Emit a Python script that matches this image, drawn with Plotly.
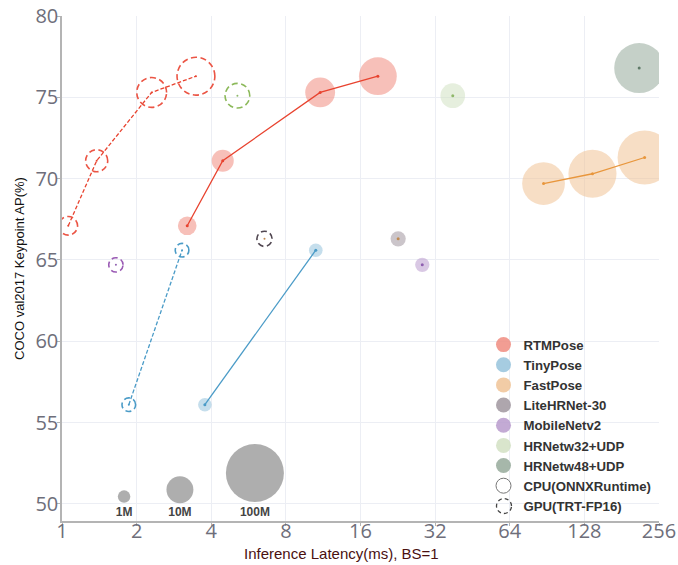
import numpy as np
import plotly.graph_objects as go

# ---- data: latency (ms), COCO AP, params (M) ----
rtm_ap = [67.1, 71.1, 75.3, 76.3]
rtm_params = [3.3, 5.5, 13.6, 27.7]
rtm_cpu_ms = [3.2, 4.45, 11.0, 18.8]
rtm_gpu_ms = [1.06, 1.38, 2.30, 3.47]

tiny_ap = [56.1, 65.6]
tiny_params = [1.3, 1.3]
tiny_cpu_ms = [3.77, 10.56]
tiny_gpu_ms = [1.86, 3.05]

fast_ap = [69.7, 70.3, 71.3]
fast_params = [40.0, 57.0, 81.0]
fast_cpu_ms = [87.6, 138.0, 224.0]

lite_ap = [66.3]
lite_params = [1.8]
lite_cpu_ms = [22.7]
lite_gpu_ms = [6.56]

mob_ap = [64.7]
mob_params = [1.5]
mob_cpu_ms = [28.4]
mob_gpu_ms = [1.65]

w32_ap = [75.1]
w32_params = [7.7]
w32_cpu_ms = [37.7]
w32_gpu_ms = [5.1]

w48_ap = [76.8]
w48_params = [64.0]
w48_cpu_ms = [213.0]

ref_labels = ["1M", "10M", "100M"]
ref_params = [1, 10, 100]
ref_ms = [1.78, 2.99, 6.0]
ref_ap = [50.45, 50.87, 51.9]
ref_label_ap = 49.47

x_ticks = [1, 2, 4, 8, 16, 32, 64, 128, 256]
y_ticks = [50, 55, 60, 65, 70, 75, 80]


def diam(p):
    # bubble diameter grows with the cube root of the parameter count
    return [12.5 * v ** (1 / 3) for v in p]


def ring_path(r):
    # closed circle (four cubic arcs) in pixel offsets around an anchor
    k = 0.5523 * r
    return (f"M {r},0 C {r},{k} {k},{r} 0,{r} C {-k},{r} {-r},{k} {-r},0 "
            f"C {-r},{-k} {-k},{-r} 0,{-r} C {k},{-r} {r},{-k} {r},0 Z")


fig = go.Figure()

series = [
    # name, ap, params, cpu, gpu, fill, line, ring colour
    ("RTMPose", rtm_ap, rtm_params, rtm_cpu_ms, rtm_gpu_ms, "#F08C80", "#E8432F", "#EB5545"),
    ("TinyPose", tiny_ap, tiny_params, tiny_cpu_ms, tiny_gpu_ms, "#96C3DC", "#4A9BC7", "#4A9BC7"),
    ("FastPose", fast_ap, fast_params, fast_cpu_ms, None, "#F0C396", "#E8963C", None),
    ("LiteHRNet-30", lite_ap, lite_params, lite_cpu_ms, lite_gpu_ms, "#A0969F", "#C08A50", "#504650"),
    ("MobileNetv2", mob_ap, mob_params, mob_cpu_ms, mob_gpu_ms, "#B99BCD", "#8F5FB0", "#9A5AB4"),
    ("HRNetw32+UDP", w32_ap, w32_params, w32_cpu_ms, w32_gpu_ms, "#D2E1C3", "#8FB86A", "#8CB95A"),
    ("HRNetw48+UDP", w48_ap, w48_params, w48_cpu_ms, None, "#96AA9B", "#5F7A68", None),
]

shapes = []
for name, ap, params, cpu, gpu, fill, line, rcol in series:
    d = diam(params)
    # CPU bubbles
    fig.add_trace(go.Scatter(
        x=cpu, y=ap, mode="markers", showlegend=False, hoverinfo="skip",
        marker=dict(size=d, sizemode="diameter", color=fill, opacity=0.55,
                    line=dict(width=0)),
    ))
    fig.add_trace(go.Scatter(
        x=cpu, y=ap, mode="lines+markers", showlegend=False,
        line=dict(color=line, width=1.3),
        marker=dict(size=3, color=line),
    ))
    if gpu is not None:
        fig.add_trace(go.Scatter(
            x=gpu, y=ap, mode="lines+markers", showlegend=False,
            line=dict(color=line, width=1.3, dash="4px,2px"),
            marker=dict(size=2, color=line),
        ))
        # GPU results: dashed rings of the same size as the CPU bubbles
        for gx, gy, gd in zip(gpu, ap, d):
            shapes.append(dict(
                type="path", xref="x", yref="y",
                xsizemode="pixel", ysizemode="pixel",
                xanchor=gx, yanchor=gy, path=ring_path(gd / 2),
                line=dict(color=rcol, width=1.6, dash="6px,3.5px"),
                fillcolor="rgba(0,0,0,0)", layer="above",
            ))

# parameter-count reference bubbles
fig.add_trace(go.Scatter(
    x=ref_ms, y=ref_ap, mode="markers", showlegend=False, hoverinfo="skip",
    marker=dict(size=diam(ref_params), sizemode="diameter", color="#9a9a9a",
                opacity=0.8, line=dict(width=0)),
))
fig.add_trace(go.Scatter(
    x=ref_ms, y=[ref_label_ap] * 3, mode="text", text=ref_labels,
    showlegend=False, hoverinfo="skip",
    textfont=dict(family="Liberation Sans", size=12, color="#444444", weight="bold"),
))

# legend entries
for name, ap, params, cpu, gpu, fill, line, rcol in series:
    fig.add_trace(go.Scatter(
        x=[None], y=[None], mode="markers", name=name,
        marker=dict(size=15, color=fill, opacity=0.85, line=dict(width=0)),
    ))
fig.add_trace(go.Scatter(
    x=[None], y=[None], mode="markers", name="CPU(ONNXRuntime)",
    marker=dict(size=15, color="white", line=dict(width=1, color="#777777")),
))
fig.add_trace(go.Scatter(
    x=[None], y=[None], mode="markers", name="GPU(TRT-FP16)",
    marker=dict(size=15, color="rgba(0,0,0,0)", line=dict(width=0)),
))

PL, PR, PT, PB = 62, 19, 16, 44
PW, PH = 678 - PL - PR, 565 - PT - PB

# dashed symbol for the GPU legend entry
shapes.append(dict(
    type="path", xref="paper", yref="paper",
    xsizemode="pixel", ysizemode="pixel",
    xanchor=(504 - PL) / PW, yanchor=1 - (506 - PT) / PH, path=ring_path(7.5),
    line=dict(color="#444444", width=1.3, dash="4px,3px"),
    fillcolor="rgba(0,0,0,0)",
))

tick_font = dict(family="Open Sans", size=20, color="#6e6e7a")

fig.update_layout(
    width=678, height=565,
    margin=dict(l=PL, r=PR, t=PT, b=PB, autoexpand=False),
    plot_bgcolor="white", paper_bgcolor="white",
    shapes=shapes,
    showlegend=True,
    legend=dict(
        x=(483.5 - PL) / PW, y=1 - (329.5 - PT) / PH,
        xanchor="left", yanchor="top",
        bgcolor="rgba(0,0,0,0)",
        font=dict(family="Liberation Sans", size=13.2, color="#333333", weight="bold"),
        itemsizing="trace", tracegroupgap=0,
    ),
    xaxis=dict(
        type="log", range=[0, np.log10(256)],
        tickvals=x_ticks, ticktext=[str(v) for v in x_ticks],
        tickfont=tick_font, showgrid=True, gridcolor="#eceef4", gridwidth=1,
        showline=True, linecolor="#b4b4b4", linewidth=1.5,
        ticks="outside", ticklen=3, tickcolor="#b4b4b4",
        ticklabelstandoff=-12, zeroline=False,
    ),
    yaxis=dict(
        range=[48.95, 80], tickvals=y_ticks,
        tickfont=tick_font, showgrid=True, gridcolor="#eceef4", gridwidth=1,
        showline=True, linecolor="#b4b4b4", linewidth=1.5,
        ticks="outside", ticklen=3, tickcolor="#b4b4b4",
        ticklabelstandoff=-5, zeroline=False,
        title=dict(text="COCO val2017 Keypoint AP(%)", standoff=8,
                   font=dict(family="Liberation Sans", size=13, color="#111111")),
    ),
    annotations=[dict(
        text="Inference Latency(ms), BS=1", xref="paper", yref="paper",
        x=(341 - PL) / PW, y=-(553 - 521) / PH, xanchor="center", yanchor="middle",
        showarrow=False,
        font=dict(family="Liberation Sans", size=15, color="#4a1010"),
    )],
)

fig.write_html("out.html")
